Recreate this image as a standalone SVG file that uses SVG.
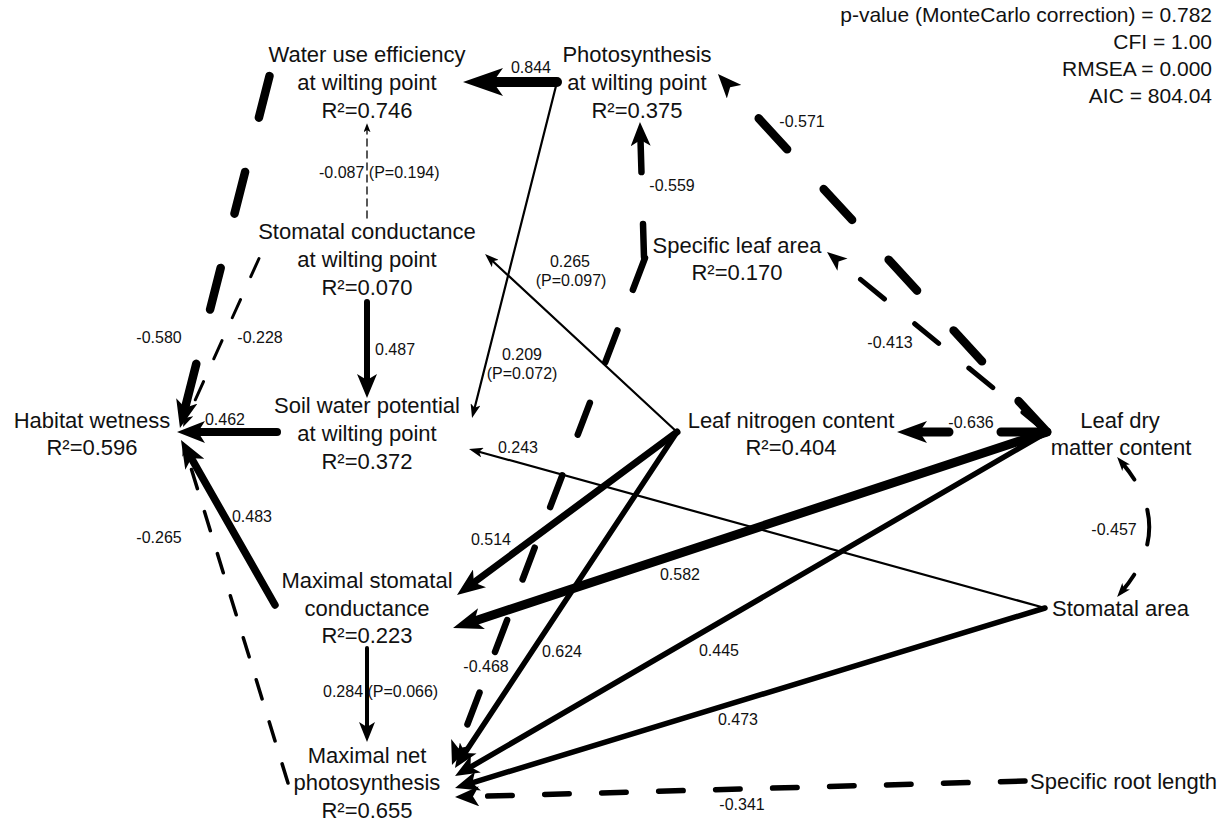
<svg xmlns="http://www.w3.org/2000/svg" width="1221" height="821" viewBox="0 0 1221 821">
  <style>
    text { font-family: "Liberation Sans", Arial, sans-serif; fill: #111; }
    .n { font-size: 22px; text-anchor: middle; }
    .ns { font-size: 22px; text-anchor: start; }
    .lb { font-size: 16px; text-anchor: middle; }
    .lbs { font-size: 16px; text-anchor: start; }
    .st { font-size: 21px; text-anchor: end; }
    .e { fill: none; stroke: #000; stroke-linecap: round; stroke-linejoin: round; }
  </style>
  <defs>
    <!-- swept-back arrowheads; the path end sits 40% in from the head's base -->
    <marker id="hXL" viewBox="0 0 10 10" refX="4" refY="5" markerWidth="40" markerHeight="28" markerUnits="userSpaceOnUse" orient="auto-start-reverse" preserveAspectRatio="none"><path d="M0,0 L10,5 L0,10 L2.5,5 Z"/></marker>
    <marker id="hL2" viewBox="0 0 10 10" refX="4" refY="5" markerWidth="30" markerHeight="22" markerUnits="userSpaceOnUse" orient="auto-start-reverse" preserveAspectRatio="none"><path d="M0,0 L10,5 L0,10 L2.5,5 Z"/></marker>
    <marker id="hL" viewBox="0 0 10 10" refX="4" refY="5" markerWidth="28" markerHeight="22" markerUnits="userSpaceOnUse" orient="auto-start-reverse" preserveAspectRatio="none"><path d="M0,0 L10,5 L0,10 L2.5,5 Z"/></marker>
    <marker id="hM" viewBox="0 0 10 10" refX="4" refY="5" markerWidth="24" markerHeight="20" markerUnits="userSpaceOnUse" orient="auto-start-reverse" preserveAspectRatio="none"><path d="M0,0 L10,5 L0,10 L2.5,5 Z"/></marker>
    <marker id="hMs" viewBox="0 0 10 10" refX="4" refY="5" markerWidth="20" markerHeight="16" markerUnits="userSpaceOnUse" orient="auto-start-reverse" preserveAspectRatio="none"><path d="M0,0 L10,5 L0,10 L2.5,5 Z"/></marker>
    <marker id="hS" viewBox="0 0 10 10" refX="4" refY="5" markerWidth="14" markerHeight="10" markerUnits="userSpaceOnUse" orient="auto-start-reverse" preserveAspectRatio="none"><path d="M0,0 L10,5 L0,10 L2.5,5 Z"/></marker>
    <marker id="hXS" viewBox="0 0 10 10" refX="4" refY="5" markerWidth="9" markerHeight="7" markerUnits="userSpaceOnUse" orient="auto-start-reverse" preserveAspectRatio="none"><path d="M0,0 L10,5 L0,10 L2.5,5 Z"/></marker>
  </defs>

  <rect width="1221" height="821" fill="#fff"/>

  <!-- path coefficients -->
  <g id="connectors">
    <path class="e" d="M557,82 L487,82" stroke-width="10" marker-end="url(#hXL)"/>
    <path class="e" d="M557,82 L474.1,409.9" stroke-width="2.2" marker-end="url(#hS)"/>
    <path class="e" d="M677,432 L491.2,259.7" stroke-width="2.2" marker-end="url(#hS)"/>
    <path class="e" d="M1045,608 L477.1,451.2" stroke-width="2.2" marker-end="url(#hS)"/>
    <path class="e" d="M677,432 L470.5,585" stroke-width="7" marker-end="url(#hL)"/>
    <path class="e" d="M1047,432 L470.1,622.4" stroke-width="9" marker-end="url(#hL2)"/>
    <path class="e" d="M677,432 L462.9,756" stroke-width="5.5" marker-end="url(#hM)"/>
    <path class="e" d="M1047,432 L467.5,768.8" stroke-width="5.5" marker-end="url(#hM)"/>
    <path class="e" d="M1045,608 L468.8,783.8" stroke-width="5.5" marker-end="url(#hM)"/>
    <path class="e" d="M1025,781 L469.4,796.6" stroke-width="5.5" stroke-dasharray="24.5 32.5" marker-end="url(#hM)"/>
    <path class="e" d="M645,258 L457.1,751.5" stroke-width="6.5" stroke-dasharray="34 43.5" marker-end="url(#hM)"/>
    <path class="e" d="M644,257 L640.4,136.4" stroke-width="6.5" stroke-dasharray="33 52" marker-end="url(#hM)"/>
    <path class="e" d="M1047,432 L727.7,84.6" stroke-width="8.5" stroke-dasharray="42 54" marker-end="url(#hM)"/>
    <path class="e" d="M1047,432 L836.3,259.6" stroke-width="5" stroke-dasharray="31 39" marker-end="url(#hMs)"/>
    <path class="e" d="M1045,432 L915,432" stroke-width="9" stroke-dasharray="44 52" marker-end="url(#hL2)"/>
    <path class="e" d="M269.5,76 L184.1,411.7" stroke-width="8.5" stroke-dasharray="43 56" marker-end="url(#hL)"/>
    <path class="e" d="M259,258.5 L186.5,419.3" stroke-width="3" stroke-dasharray="20 25" marker-end="url(#hS)"/>
    <path class="e" d="M367,302 L367,383.6" stroke-width="6" marker-end="url(#hM)"/>
    <path class="e" d="M277,432 L193.8,432" stroke-width="8" marker-end="url(#hL)"/>
    <path class="e" d="M275,605 L189.3,454.6" stroke-width="7.5" marker-end="url(#hL)"/>
    <path class="e" d="M288,783 L185.5,450" stroke-width="3.5" stroke-dasharray="20 24" marker-end="url(#hS)"/>
    <path class="e" d="M367,648 L367,730" stroke-width="4" marker-end="url(#hMs)"/>
    <path class="e" d="M367,218 L367,128.6" stroke-width="1.3" stroke-dasharray="7 5" marker-end="url(#hXS)"/>
    <path class="e" d="M1122.5,463.4 Q1176,527 1122.5,590.6" stroke-width="4" stroke-dasharray="20 33 35 33 40" marker-start="url(#hS)" marker-end="url(#hS)"/>

    <g id="coefficients">
      <text class="lb" x="531" y="73">0.844</text>
      <text class="lbs" x="319" y="178">-0.087 (P=0.194)</text>
      <text class="lb" x="159" y="343">-0.580</text>
      <text class="lb" x="260" y="343">-0.228</text>
      <text class="lbs" x="375" y="355">0.487</text>
      <text class="lb" x="225" y="425">0.462</text>
      <text class="lb" x="252" y="522">0.483</text>
      <text class="lb" x="159" y="543">-0.265</text>
      <text class="lbs" x="323" y="697">0.284 (P=0.066)</text>
      <text class="lb" x="522" y="360">0.209</text>
      <text class="lb" x="522" y="379">(P=0.072)</text>
      <text class="lb" x="570" y="267">0.265</text>
      <text class="lb" x="571" y="286">(P=0.097)</text>
      <text class="lb" x="672" y="191">-0.559</text>
      <text class="lb" x="802" y="127">-0.571</text>
      <text class="lb" x="890" y="348">-0.413</text>
      <text class="lb" x="971" y="428">-0.636</text>
      <text class="lb" x="1114" y="535">-0.457</text>
      <text class="lb" x="518" y="453">0.243</text>
      <text class="lb" x="491" y="545">0.514</text>
      <text class="lb" x="680" y="580">0.582</text>
      <text class="lb" x="486" y="672">-0.468</text>
      <text class="lb" x="562" y="657">0.624</text>
      <text class="lb" x="719" y="656">0.445</text>
      <text class="lb" x="738" y="725">0.473</text>
      <text class="lb" x="742" y="810">-0.341</text>
    </g>
  </g>

  <!-- variables -->
  <g id="wue">
    <text class="n" x="367" y="62">Water use efficiency</text>
    <text class="n" x="367" y="90">at wilting point</text>
    <text class="n" x="367" y="118">R²=0.746</text>
  </g>
  <g id="photosynthesis-wp">
    <text class="n" x="637" y="62">Photosynthesis</text>
    <text class="n" x="637" y="90">at wilting point</text>
    <text class="n" x="637" y="118">R²=0.375</text>
  </g>
  <g id="stomatal-conductance-wp">
    <text class="n" x="367" y="239">Stomatal conductance</text>
    <text class="n" x="367" y="267">at wilting point</text>
    <text class="n" x="367" y="295">R²=0.070</text>
  </g>
  <g id="soil-water-potential-wp">
    <text class="n" x="367" y="413">Soil water potential</text>
    <text class="n" x="367" y="441">at wilting point</text>
    <text class="n" x="367" y="469">R²=0.372</text>
  </g>
  <g id="habitat-wetness">
    <text class="n" x="92" y="428">Habitat wetness</text>
    <text class="n" x="92" y="455">R²=0.596</text>
  </g>
  <g id="specific-leaf-area">
    <text class="n" x="737" y="253">Specific leaf area</text>
    <text class="n" x="737" y="280">R²=0.170</text>
  </g>
  <g id="leaf-nitrogen">
    <text class="n" x="791" y="428">Leaf nitrogen content</text>
    <text class="n" x="791" y="455">R²=0.404</text>
  </g>
  <g id="ldmc">
    <text class="n" x="1120" y="428">Leaf dry</text>
    <text class="n" x="1121" y="455">matter content</text>
  </g>
  <g id="stomatal-area">
    <text class="ns" x="1052" y="616">Stomatal area</text>
  </g>
  <g id="max-stomatal-conductance">
    <text class="n" x="367" y="588">Maximal stomatal</text>
    <text class="n" x="367" y="616">conductance</text>
    <text class="n" x="367" y="643">R²=0.223</text>
  </g>
  <g id="max-net-photosynthesis">
    <text class="n" x="367" y="763">Maximal net</text>
    <text class="n" x="367" y="790">photosynthesis</text>
    <text class="n" x="367" y="818">R²=0.655</text>
  </g>
  <g id="specific-root-length">
    <text class="ns" x="1030" y="789">Specific root length</text>
  </g>

  <!-- model fit -->
  <g id="fit-stats">
    <text class="st" x="1212" y="22">p-value (MonteCarlo correction) = 0.782</text>
    <text class="st" x="1212" y="49">CFI = 1.00</text>
    <text class="st" x="1212" y="76">RMSEA = 0.000</text>
    <text class="st" x="1212" y="103">AIC = 804.04</text>
  </g>
</svg>
